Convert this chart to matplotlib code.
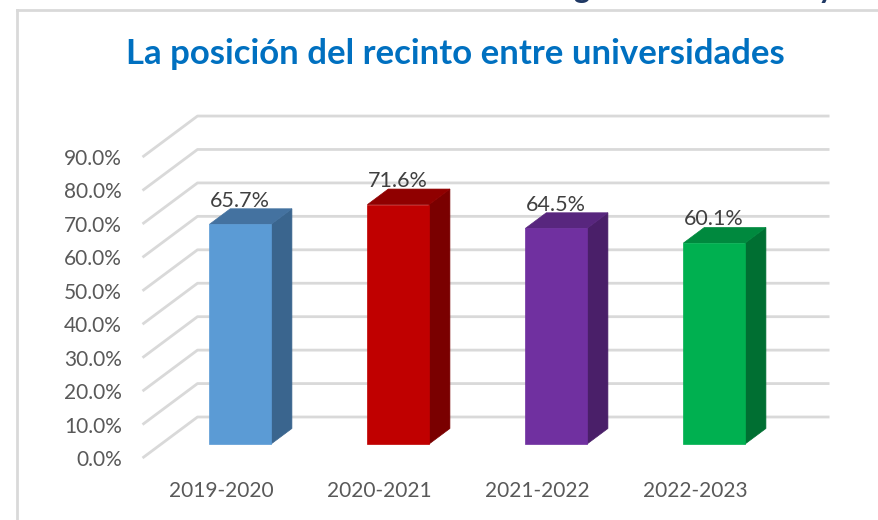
import matplotlib.pyplot as plt
from matplotlib.patches import Polygon
import numpy as np

# Data
periods = ["2019-2020", "2020-2021", "2021-2022", "2022-2023"]
values = [65.7, 71.6, 64.5, 60.1]
front_colors = ["#5B9BD5", "#C00000", "#7030A0", "#00B050"]
top_colors = ["#4472A0", "#900000", "#58267E", "#00893E"]
side_colors = ["#3A658E", "#7A0000", "#4A1F69", "#006F32"]
yticks = np.arange(0, 100, 10)

plt.rcParams['font.family'] = ['Lato', 'DejaVu Sans']
text_gray = "#595959"
grid_gray = "#D9D9D9"

fig = plt.figure(figsize=(8.79, 5.20), dpi=100)

# chart border (light gray frame, partly cut off)
fig.add_artist(plt.Line2D([17.5/879, 1.0], [1-9.5/520, 1-9.5/520], color=grid_gray, lw=2))
fig.add_artist(plt.Line2D([17.5/879, 17.5/879], [0, 1-9.5/520], color=grid_gray, lw=2))

# cut off heading above the chart, only descenders visible
fig.text(573/879, 1 + 2/520, "g", color="#1F3864", fontsize=22, fontweight="bold",
         ha="left", va="baseline")
fig.text(818/879, 1 + 2/520, "y", color="#1F3864", fontsize=22, fontweight="bold",
         ha="left", va="baseline")

fig.text(455/879, 1 - 64/520, "La posición del recinto entre universidades",
         color="#0070C0", fontsize=25, fontweight="bold", ha="center", va="baseline")

# axes: front plane of the 3D box, x in categories, y in percent
ax = fig.add_axes([142.5/879, 62/520, 632/879, 334.4/520])
ax.set_xlim(-0.5, 3.5)
ax.set_ylim(0, 100)
for s in ax.spines.values():
    s.set_visible(False)

# depth vector of the 3D box (in data units)
dx = 55/158.0
dy = 41/3.344
d0, d1 = 0.34, 0.72     # bar front and back depth
half_w = 0.195

# wall gridlines: left side wall + back wall
for v in yticks:
    ax.plot([-0.5, -0.5+dx, 3.5+dx], [v, v+dy, v+dy], color=grid_gray, lw=2,
            clip_on=False, zorder=1, solid_capstyle="butt")

for i, (h, fc, tc, sc) in enumerate(zip(values, front_colors, top_colors, side_colors)):
    xl = i - half_w
    xr = i + half_w
    front = [(xl+d0*dx, d0*dy), (xr+d0*dx, d0*dy), (xr+d0*dx, h+d0*dy), (xl+d0*dx, h+d0*dy)]
    top = [(xl+d0*dx, h+d0*dy), (xr+d0*dx, h+d0*dy), (xr+d1*dx, h+d1*dy), (xl+d1*dx, h+d1*dy)]
    side = [(xr+d0*dx, d0*dy), (xr+d1*dx, d1*dy), (xr+d1*dx, h+d1*dy), (xr+d0*dx, h+d0*dy)]
    for poly, c in [(side, sc), (top, tc), (front, fc)]:
        ax.add_patch(Polygon(poly, closed=True, facecolor=c, edgecolor=c, lw=0.5,
                             clip_on=False, zorder=3))
    ax.text(i + d0*dx, h + d1*dy + 0.6, f"{h:.1f}%", ha="center", va="baseline",
            fontsize=15.5, color="#404040", zorder=4, clip_on=False)

ax.set_yticks(yticks)
ax.set_yticklabels([f"{v:.1f}%" for v in yticks])
ax.set_xticks(range(len(periods)))
ax.set_xticklabels(periods)
ax.tick_params(axis="y", length=0, pad=15, labelsize=15, labelcolor=text_gray)
ax.tick_params(axis="x", length=0, pad=16.5, labelsize=15, labelcolor=text_gray)

fig.savefig("out.png", dpi=100)
